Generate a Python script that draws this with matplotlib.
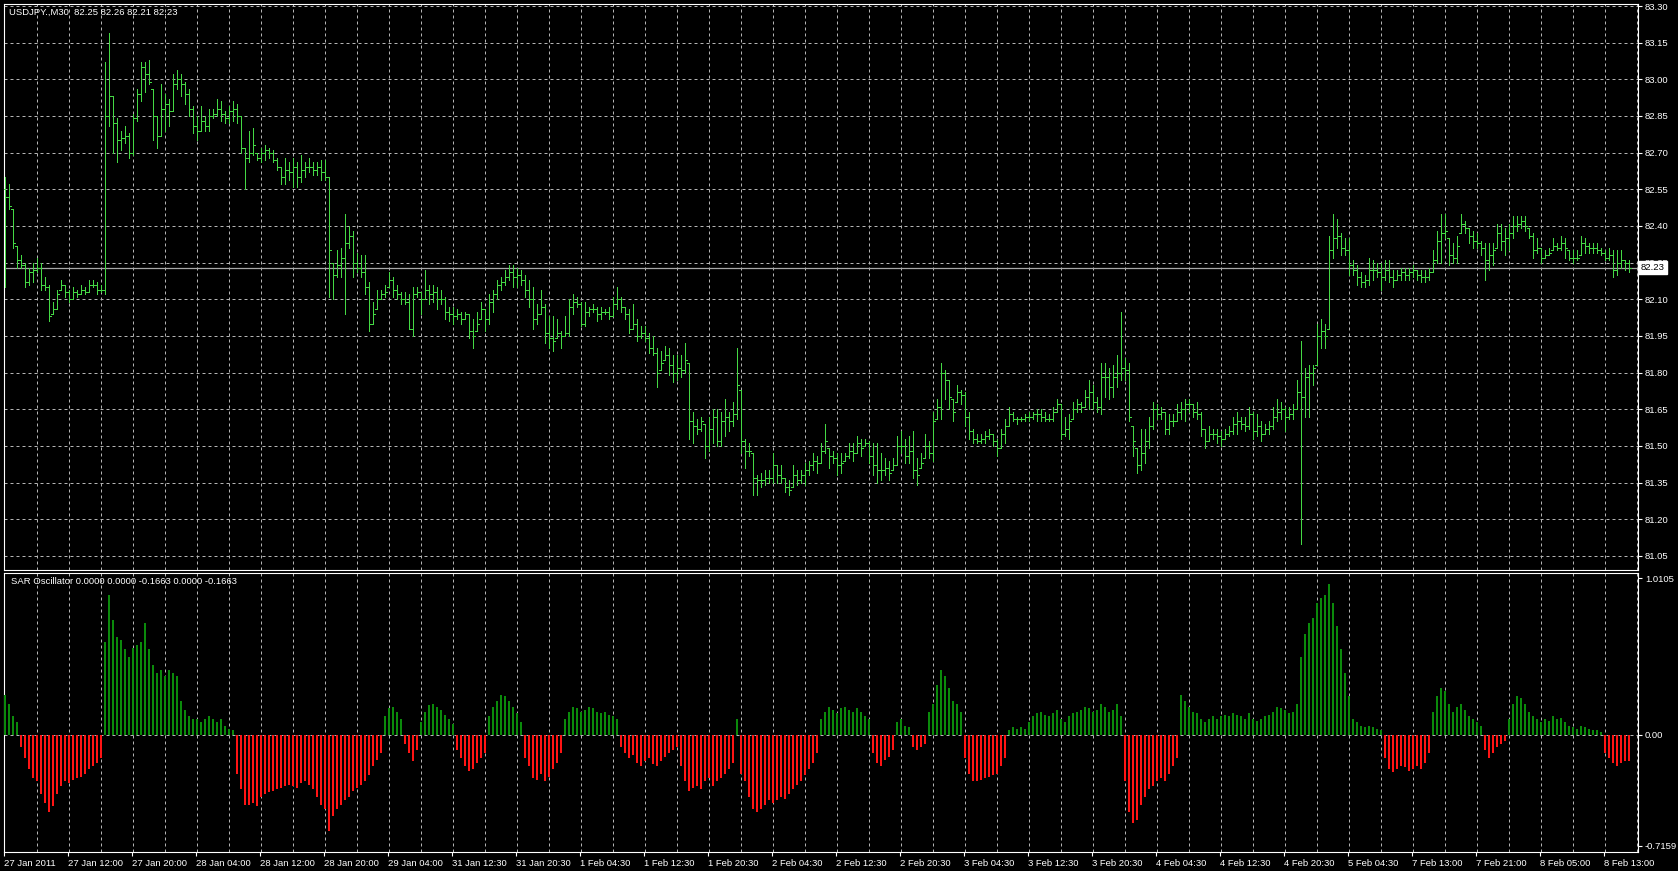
import matplotlib
matplotlib.use("Agg")
import matplotlib.pyplot as plt
import matplotlib.transforms as mtransforms
import numpy as np

# ---- data: USDJPY M30 bars (high / low / close) ----
high = [
    82.60, 82.57, 82.47, 82.32, 82.28, 82.25, 82.23, 82.25, 82.27, 82.25,
    82.19, 82.16, 82.09, 82.14, 82.18, 82.16, 82.14, 82.15, 82.14, 82.16,
    82.15, 82.18, 82.18, 82.17, 82.16, 83.07, 83.19, 82.93, 82.84, 82.79,
    82.81, 82.78, 82.86, 82.96, 83.07, 83.07, 83.08, 82.96, 82.85, 82.98,
    82.94, 82.92, 83.02, 83.04, 83.02, 82.99, 82.96, 82.89, 82.85, 82.89,
    82.85, 82.88, 82.88, 82.92, 82.91, 82.87, 82.89, 82.91, 82.90, 82.85,
    82.72, 82.79, 82.80, 82.70, 82.72, 82.73, 82.72, 82.71, 82.68, 82.64,
    82.68, 82.66, 82.68, 82.66, 82.69, 82.66, 82.68, 82.66, 82.66, 82.67,
    82.67, 82.60, 82.25, 82.30, 82.31, 82.45, 82.40, 82.38, 82.29, 82.28,
    82.28, 82.17, 82.09, 82.14, 82.14, 82.16, 82.21, 82.19, 82.16, 82.13,
    82.13, 82.12, 82.15, 82.15, 82.13, 82.22, 82.16, 82.16, 82.15, 82.14,
    82.11, 82.07, 82.07, 82.06, 82.05, 82.05, 82.04, 82.02, 82.05, 82.09,
    82.06, 82.12, 82.14, 82.18, 82.19, 82.22, 82.24, 82.24, 82.23, 82.22,
    82.20, 82.18, 82.15, 82.08, 82.14, 82.08, 82.03, 82.03, 82.02, 81.97,
    82.03, 82.10, 82.12, 82.11, 82.09, 82.09, 82.07, 82.08, 82.07, 82.07,
    82.06, 82.07, 82.11, 82.15, 82.11, 82.07, 82.06, 82.08, 82.02, 81.99,
    81.99, 81.96, 81.95, 81.90, 81.89, 81.91, 81.90, 81.87, 81.87, 81.87,
    81.92, 81.84, 81.64, 81.61, 81.62, 81.59, 81.62, 81.65, 81.65, 81.64,
    81.69, 81.64, 81.68, 81.90, 81.73, 81.53, 81.51, 81.47, 81.38, 81.39,
    81.40, 81.40, 81.47, 81.42, 81.42, 81.37, 81.36, 81.42, 81.40, 81.40,
    81.43, 81.44, 81.47, 81.46, 81.51, 81.59, 81.49, 81.48, 81.47, 81.47,
    81.47, 81.51, 81.51, 81.54, 81.53, 81.53, 81.52, 81.51, 81.51, 81.47,
    81.45, 81.44, 81.45, 81.54, 81.56, 81.53, 81.54, 81.56, 81.45, 81.47,
    81.55, 81.52, 81.64, 81.69, 81.84, 81.81, 81.77, 81.69, 81.75, 81.73,
    81.72, 81.64, 81.57, 81.55, 81.55, 81.56, 81.57, 81.55, 81.53, 81.57,
    81.61, 81.66, 81.64, 81.62, 81.62, 81.63, 81.64, 81.64, 81.65, 81.65,
    81.64, 81.63, 81.66, 81.69, 81.67, 81.62, 81.63, 81.68, 81.69, 81.68,
    81.73, 81.77, 81.75, 81.70, 81.84, 81.84, 81.82, 81.83, 81.87, 82.05,
    81.86, 81.84, 81.58, 81.49, 81.57, 81.57, 81.62, 81.68, 81.67, 81.66,
    81.64, 81.63, 81.63, 81.67, 81.68, 81.69, 81.69, 81.67, 81.68, 81.64,
    81.57, 81.58, 81.57, 81.57, 81.56, 81.57, 81.58, 81.62, 81.64, 81.62,
    81.62, 81.66, 81.64, 81.63, 81.60, 81.59, 81.60, 81.66, 81.69, 81.68,
    81.66, 81.66, 81.67, 81.77, 81.93, 81.82, 81.83, 81.83, 82.00, 82.02,
    82.00, 82.36, 82.45, 82.43, 82.37, 82.35, 82.35, 82.26, 82.24, 82.21,
    82.20, 82.27, 82.26, 82.25, 82.25, 82.26, 82.26, 82.22, 82.22, 82.23,
    82.23, 82.23, 82.24, 82.22, 82.22, 82.22, 82.23, 82.30, 82.38, 82.45,
    82.45, 82.35, 82.33, 82.36, 82.45, 82.42, 82.39, 82.38, 82.37, 82.34,
    82.33, 82.33, 82.33, 82.41, 82.41, 82.39, 82.41, 82.44, 82.44, 82.44,
    82.44, 82.39, 82.37, 82.35, 82.31, 82.30, 82.31, 82.35, 82.33, 82.36,
    82.35, 82.30, 82.30, 82.30, 82.36, 82.35, 82.33, 82.33, 82.33, 82.31,
    82.30, 82.31, 82.30, 82.30, 82.30, 82.26, 82.26,
]
low = [
    82.15, 82.47, 82.31, 82.23, 82.23, 82.15, 82.16, 82.17, 82.21, 82.14,
    82.14, 82.01, 82.04, 82.06, 82.14, 82.11, 82.09, 82.10, 82.11, 82.12,
    82.12, 82.13, 82.15, 82.12, 82.13, 82.12, 82.81, 82.70, 82.66, 82.71,
    82.74, 82.68, 82.69, 82.83, 82.91, 82.95, 82.98, 82.75, 82.72, 82.77,
    82.79, 82.81, 82.87, 82.96, 82.93, 82.90, 82.85, 82.78, 82.75, 82.79,
    82.79, 82.79, 82.84, 82.85, 82.83, 82.82, 82.82, 82.83, 82.82, 82.70,
    82.55, 82.66, 82.69, 82.67, 82.66, 82.67, 82.68, 82.66, 82.63, 82.57,
    82.57, 82.59, 82.56, 82.56, 82.58, 82.60, 82.62, 82.61, 82.61, 82.59,
    82.59, 82.11, 82.10, 82.19, 82.19, 82.04, 82.31, 82.19, 82.21, 82.19,
    82.12, 81.97, 82.00, 82.06, 82.10, 82.11, 82.15, 82.11, 82.10, 82.08,
    82.08, 81.98, 81.95, 82.11, 82.04, 82.10, 82.08, 82.09, 82.06, 82.08,
    82.02, 82.01, 82.00, 82.02, 82.00, 82.02, 81.94, 81.90, 81.97, 82.02,
    81.97, 82.00, 82.05, 82.10, 82.14, 82.16, 82.18, 82.15, 82.15, 82.16,
    82.11, 82.07, 81.98, 82.00, 82.04, 81.92, 81.90, 81.89, 81.94, 81.90,
    81.95, 81.95, 82.04, 82.07, 81.99, 81.99, 82.03, 82.05, 82.01, 82.02,
    82.04, 82.02, 82.03, 82.06, 82.05, 82.02, 81.96, 81.98, 81.93, 81.94,
    81.93, 81.88, 81.87, 81.74, 81.81, 81.85, 81.79, 81.76, 81.77, 81.78,
    81.80, 81.53, 81.51, 81.55, 81.56, 81.45, 81.48, 81.51, 81.50, 81.50,
    81.54, 81.56, 81.58, 81.61, 81.47, 81.41, 81.46, 81.30, 81.30, 81.33,
    81.34, 81.35, 81.35, 81.35, 81.35, 81.31, 81.30, 81.33, 81.34, 81.35,
    81.34, 81.38, 81.40, 81.39, 81.43, 81.47, 81.41, 81.43, 81.38, 81.39,
    81.44, 81.45, 81.44, 81.47, 81.46, 81.50, 81.43, 81.38, 81.35, 81.36,
    81.38, 81.36, 81.40, 81.42, 81.47, 81.43, 81.43, 81.37, 81.34, 81.41,
    81.45, 81.45, 81.44, 81.61, 81.61, 81.69, 81.65, 81.60, 81.68, 81.67,
    81.58, 81.53, 81.51, 81.51, 81.51, 81.51, 81.53, 81.50, 81.46, 81.49,
    81.51, 81.58, 81.60, 81.59, 81.60, 81.60, 81.60, 81.61, 81.60, 81.60,
    81.60, 81.60, 81.60, 81.64, 81.53, 81.54, 81.53, 81.61, 81.64, 81.64,
    81.66, 81.65, 81.65, 81.64, 81.63, 81.70, 81.69, 81.70, 81.74, 81.77,
    81.77, 81.60, 81.46, 81.39, 81.40, 81.43, 81.49, 81.57, 81.61, 81.61,
    81.55, 81.55, 81.58, 81.60, 81.61, 81.60, 81.64, 81.62, 81.61, 81.54,
    81.49, 81.52, 81.53, 81.51, 81.50, 81.53, 81.54, 81.55, 81.55, 81.57,
    81.56, 81.57, 81.53, 81.54, 81.52, 81.55, 81.55, 81.57, 81.60, 81.61,
    81.56, 81.61, 81.61, 81.65, 81.10, 81.62, 81.62, 81.75, 81.83, 81.90,
    81.90, 81.98, 82.27, 82.31, 82.28, 82.28, 82.20, 82.20, 82.16, 82.15,
    82.15, 82.16, 82.18, 82.19, 82.14, 82.18, 82.17, 82.15, 82.18, 82.18,
    82.18, 82.18, 82.19, 82.18, 82.17, 82.17, 82.18, 82.21, 82.25, 82.25,
    82.35, 82.24, 82.25, 82.25, 82.37, 82.37, 82.33, 82.31, 82.31, 82.28,
    82.18, 82.22, 82.24, 82.31, 82.30, 82.28, 82.30, 82.35, 82.38, 82.39,
    82.38, 82.35, 82.27, 82.29, 82.25, 82.27, 82.28, 82.30, 82.30, 82.30,
    82.27, 82.26, 82.25, 82.26, 82.28, 82.29, 82.29, 82.29, 82.29, 82.28,
    82.26, 82.26, 82.19, 82.20, 82.23, 82.22, 82.21,
]
close = [
    82.52, 82.48, 82.33, 82.26, 82.24, 82.17, 82.21, 82.22, 82.23, 82.16,
    82.15, 82.03, 82.06, 82.12, 82.16, 82.13, 82.10, 82.13, 82.12, 82.14,
    82.13, 82.16, 82.16, 82.14, 82.14, 82.85, 82.93, 82.82, 82.75, 82.76,
    82.77, 82.70, 82.84, 82.94, 83.05, 83.02, 82.99, 82.85, 82.77, 82.88,
    82.90, 82.87, 82.98, 83.00, 82.98, 82.94, 82.88, 82.81, 82.79, 82.83,
    82.81, 82.85, 82.86, 82.88, 82.86, 82.84, 82.87, 82.88, 82.85, 82.72,
    82.68, 82.70, 82.73, 82.68, 82.70, 82.71, 82.70, 82.67, 82.64, 82.60,
    82.63, 82.62, 82.64, 82.60, 82.63, 82.64, 82.64, 82.63, 82.64, 82.62,
    82.60, 82.30, 82.20, 82.24, 82.27, 82.33, 82.36, 82.25, 82.23, 82.21,
    82.15, 82.00, 82.04, 82.10, 82.12, 82.13, 82.18, 82.14, 82.12, 82.10,
    82.09, 81.98, 82.12, 82.13, 82.10, 82.14, 82.12, 82.13, 82.10, 82.10,
    82.05, 82.04, 82.03, 82.04, 82.02, 82.04, 81.97, 81.95, 82.00, 82.06,
    82.02, 82.09, 82.12, 82.16, 82.17, 82.19, 82.21, 82.19, 82.20, 82.18,
    82.14, 82.10, 82.02, 82.04, 82.07, 81.96, 81.94, 81.93, 81.96, 81.95,
    81.96, 82.07, 82.09, 82.08, 82.00, 82.05, 82.06, 82.06, 82.04, 82.05,
    82.05, 82.03, 82.08, 82.10, 82.07, 82.04, 81.98, 82.00, 81.95, 81.96,
    81.94, 81.90, 81.88, 81.80, 81.84, 81.87, 81.83, 81.80, 81.82, 81.81,
    81.85, 81.60, 81.58, 81.57, 81.60, 81.50, 81.57, 81.62, 81.52, 81.60,
    81.62, 81.60, 81.63, 81.75, 81.52, 81.48, 81.48, 81.37, 81.36, 81.36,
    81.37, 81.37, 81.42, 81.38, 81.37, 81.33, 81.32, 81.38, 81.36, 81.38,
    81.40, 81.42, 81.44, 81.43, 81.48, 81.52, 81.46, 81.45, 81.42, 81.43,
    81.46, 81.48, 81.47, 81.51, 81.49, 81.51, 81.46, 81.42, 81.40, 81.40,
    81.41, 81.39, 81.42, 81.50, 81.50, 81.46, 81.48, 81.40, 81.38, 81.43,
    81.50, 81.47, 81.60, 81.66, 81.80, 81.77, 81.70, 81.64, 81.72, 81.71,
    81.62, 81.56, 81.53, 81.52, 81.53, 81.54, 81.55, 81.52, 81.49, 81.55,
    81.58, 81.63, 81.61, 81.61, 81.61, 81.62, 81.62, 81.63, 81.63, 81.62,
    81.61, 81.61, 81.64, 81.67, 81.55, 81.57, 81.60, 81.65, 81.67, 81.66,
    81.70, 81.72, 81.68, 81.66, 81.78, 81.78, 81.74, 81.78, 81.80, 81.82,
    81.81, 81.62, 81.52, 81.42, 81.47, 81.52, 81.58, 81.65, 81.63, 81.64,
    81.57, 81.60, 81.60, 81.64, 81.65, 81.67, 81.67, 81.64, 81.63, 81.57,
    81.52, 81.55, 81.55, 81.54, 81.53, 81.55, 81.56, 81.59, 81.60, 81.59,
    81.58, 81.63, 81.56, 81.58, 81.55, 81.57, 81.58, 81.62, 81.64, 81.65,
    81.62, 81.63, 81.65, 81.72, 81.70, 81.78, 81.80, 81.82, 81.95, 81.97,
    81.95, 82.30, 82.35, 82.36, 82.31, 82.30, 82.24, 82.22, 82.19, 82.17,
    82.18, 82.22, 82.22, 82.21, 82.19, 82.22, 82.19, 82.18, 82.20, 82.21,
    82.20, 82.21, 82.22, 82.20, 82.19, 82.19, 82.21, 82.26, 82.34, 82.37,
    82.38, 82.28, 82.27, 82.32, 82.41, 82.39, 82.36, 82.34, 82.33, 82.31,
    82.26, 82.28, 82.30, 82.37, 82.34, 82.35, 82.37, 82.40, 82.41, 82.42,
    82.40, 82.36, 82.30, 82.31, 82.27, 82.28, 82.29, 82.32, 82.31, 82.33,
    82.31, 82.27, 82.27, 82.27, 82.33, 82.32, 82.31, 82.31, 82.30, 82.29,
    82.27, 82.28, 82.22, 82.25, 82.26, 82.25, 82.23,
]
first_open = 82.55

# SAR oscillator histogram, one value per bar
sar_osc = [
    0.26, 0.20, 0.12, 0.08,
    -0.08, -0.15, -0.22, -0.28, -0.30, -0.38, -0.44, -0.50, -0.46, -0.38,
    -0.33, -0.30, -0.31, -0.29, -0.28, -0.27, -0.25, -0.22, -0.20, -0.18,
    -0.15,
    0.60, 0.90, 0.74, 0.63, 0.61, 0.55, 0.50, 0.56, 0.58, 0.60,
    0.72, 0.55, 0.45, 0.40, 0.42, 0.38, 0.42, 0.40, 0.38, 0.22,
    0.16, 0.12, 0.10, 0.10, 0.08, 0.10, 0.12, 0.10, 0.08, 0.10,
    0.06, 0.04, 0.03,
    -0.25, -0.35, -0.45, -0.45, -0.44, -0.46, -0.40, -0.38, -0.37, -0.36,
    -0.35, -0.34, -0.33, -0.32, -0.33, -0.34, -0.31, -0.30, -0.32, -0.35,
    -0.40, -0.45, -0.48, -0.62, -0.52, -0.48, -0.45, -0.42, -0.40, -0.36,
    -0.34, -0.32, -0.30, -0.26, -0.20, -0.16, -0.12,
    0.12, 0.17, 0.18, 0.15, 0.10,
    -0.06, -0.12, -0.17, -0.10,
    0.08, 0.15, 0.19, 0.20, 0.18, 0.16, 0.13, 0.10, 0.07,
    -0.10, -0.15, -0.20, -0.23, -0.22, -0.18, -0.15, -0.12,
    0.12, 0.18, 0.22, 0.26, 0.25, 0.22, 0.18, 0.14, 0.08,
    -0.15, -0.20, -0.28, -0.29, -0.25, -0.30, -0.27, -0.22, -0.18, -0.12,
    0.10, 0.15, 0.18, 0.17, 0.15, 0.16, 0.18, 0.17, 0.15, 0.14,
    0.15, 0.13, 0.12, 0.10,
    -0.08, -0.12, -0.15, -0.13, -0.18, -0.20, -0.17, -0.15, -0.19, -0.20,
    -0.17, -0.14, -0.12, -0.10, -0.08,
    -0.20, -0.30, -0.36, -0.34, -0.33, -0.35, -0.30, -0.28, -0.33, -0.30,
    -0.28, -0.25, -0.22, -0.18,
    0.10,
    -0.25, -0.30, -0.40, -0.48, -0.50, -0.48, -0.45, -0.42, -0.44, -0.42,
    -0.40, -0.41, -0.38, -0.35, -0.32, -0.30, -0.26, -0.22, -0.18, -0.12,
    0.10, 0.15, 0.18, 0.16, 0.14, 0.17, 0.18, 0.16, 0.15, 0.17,
    0.15, 0.12, 0.10,
    -0.12, -0.18, -0.20, -0.16, -0.14, -0.10,
    0.08, 0.10, 0.06, 0.05,
    -0.08, -0.10, -0.08, -0.06,
    0.15, 0.20, 0.32, 0.42, 0.38, 0.30, 0.22, 0.20, 0.15,
    -0.15, -0.25, -0.30, -0.30, -0.29, -0.28, -0.27, -0.26, -0.25, -0.20,
    -0.15,
    0.03, 0.05, 0.04, 0.05, 0.04,
    0.08, 0.12, 0.14, 0.15, 0.13, 0.12, 0.14, 0.16, 0.10, 0.08,
    0.12, 0.14, 0.15, 0.16, 0.18, 0.17, 0.15, 0.16, 0.20, 0.18,
    0.15, 0.16, 0.20, 0.12,
    -0.30, -0.50, -0.57, -0.55, -0.45, -0.40, -0.35, -0.33, -0.30, -0.28,
    -0.30, -0.25, -0.20, -0.15,
    0.26, 0.22, 0.18, 0.15, 0.14, 0.10, 0.08, 0.10, 0.12, 0.10,
    0.12, 0.13, 0.12, 0.14, 0.13, 0.12, 0.10, 0.14, 0.10, 0.09,
    0.10, 0.12, 0.13, 0.15, 0.18, 0.17, 0.16, 0.14, 0.15, 0.20,
    0.50, 0.65, 0.72, 0.75, 0.85, 0.88, 0.90, 0.97, 0.85, 0.70,
    0.55, 0.40, 0.25,
    0.10, 0.08, 0.06, 0.05, 0.06, 0.05, 0.04, 0.03,
    -0.15, -0.22, -0.24, -0.22, -0.20, -0.21, -0.23, -0.22, -0.20, -0.22,
    -0.18, -0.12,
    0.15, 0.25, 0.30, 0.28, 0.20, 0.15, 0.18, 0.20, 0.16, 0.12,
    0.10, 0.08, 0.06,
    -0.10, -0.15, -0.12, -0.08, -0.06, -0.04,
    0.10, 0.20, 0.25, 0.24, 0.20, 0.15, 0.12, 0.10, 0.08, 0.10,
    0.09, 0.12, 0.10, 0.11, 0.08, 0.06, 0.05, 0.04, 0.06, 0.05,
    0.04, 0.03, 0.03, 0.02,
    -0.12, -0.15, -0.18, -0.20, -0.18, -0.17, -0.17,
]

price_levels = [83.30, 83.15, 83.00, 82.85, 82.70, 82.55, 82.40, 82.25,
                82.10, 81.95, 81.80, 81.65, 81.50, 81.35, 81.20, 81.05]
osc_levels = [1.0105, 0.0, -0.7159]
osc_level_labels = ["1.0105", "0.00", "-0.7159"]
time_labels = ["27 Jan 2011", "27 Jan 12:00", "27 Jan 20:00", "28 Jan 04:00",
               "28 Jan 12:00", "28 Jan 20:00", "29 Jan 04:00", "31 Jan 12:30",
               "31 Jan 20:30", "1 Feb 04:30", "1 Feb 12:30", "1 Feb 20:30",
               "2 Feb 04:30", "2 Feb 12:30", "2 Feb 20:30", "3 Feb 04:30",
               "3 Feb 12:30", "3 Feb 20:30", "4 Feb 04:30", "4 Feb 12:30",
               "4 Feb 20:30", "5 Feb 04:30", "7 Feb 13:00", "7 Feb 21:00",
               "8 Feb 05:00", "8 Feb 13:00"]
last_price = 82.23

# ---- look ----
BG = "black"
FG = "white"
GRID = "#b4b4b4"
BAR = "#44d844"
OSC_UP = "#0b8a0b"
OSC_DN = "#ff1414"
FS = 6.8

plt.rcParams["font.family"] = ["Liberation Sans", "DejaVu Sans"]

W, H = 1678, 871
fig = plt.figure(figsize=(W / 100, H / 100), dpi=100, facecolor=BG)


def px_axes(l, t, r, b):
    return fig.add_axes([l / W, 1 - b / H, (r - l) / W, (b - t) / H])


ax = px_axes(4, 4, 1638, 570)
axo = px_axes(4, 573, 1638, 852)

n = len(close)
x = np.arange(n)
hi = np.array(high)
lo = np.array(low)
cl = np.array(close)
op = np.clip(np.r_[first_open, cl[:-1]], lo, hi)

for a in (ax, axo):
    a.set_facecolor(BG)
    a.set_xlim(-0.25, 408.25)
    for s in a.spines.values():
        s.set_color(FG)
        s.set_linewidth(0.8)
    # dashed vertical grid every 8 bars
    for gx in range(8, 409, 8):
        a.axvline(gx, color=GRID, lw=0.72, ls=(0, (3, 3)), zorder=0)

# price panel
ax.set_ylim(83.30 - 564 / 244.4, 83.30 + 2 / 244.4)
for lv in price_levels:
    ax.axhline(lv, color=GRID, lw=0.72, ls=(0, (3, 3)), zorder=0)
ax.axhline(last_price, color="#a8a8a8", lw=0.9, zorder=1)
ax.vlines(x, lo, hi, color=BAR, lw=0.72, antialiased=False, zorder=3)
ax.hlines(op, x - 0.45, x, color=BAR, lw=0.72, antialiased=False, zorder=3)
ax.hlines(cl, x, x + 0.45, color=BAR, lw=0.72, antialiased=False, zorder=3)

ax.yaxis.tick_right()
ax.set_yticks(price_levels)
ax.set_yticklabels(["%.2f" % v for v in price_levels])
ax.tick_params(axis="y", colors=FG, labelsize=FS, length=3, width=0.8, pad=2)
ax.set_xticks([])
tr = mtransforms.blended_transform_factory(ax.transAxes, ax.transData)
ax.text(1.0015, last_price, "%.2f" % last_price, transform=tr,
        ha="left", va="center", fontsize=FS, color="black", clip_on=False,
        bbox=dict(boxstyle="square,pad=0.25", fc="white", ec="white"), zorder=10)

# oscillator panel
osc = np.array(sar_osc)
xo = np.arange(len(osc))
axo.set_ylim(-0.7159 - 6 / 155.2, 1.0105 + 5 / 155.2)
axo.axhline(0, color=GRID, lw=0.72, ls=(0, (3, 3)), zorder=0)
up = osc > 0
axo.vlines(xo[up], 0, osc[up], color=OSC_UP, lw=1.1, antialiased=False, zorder=3)
axo.vlines(xo[~up], osc[~up], 0, color=OSC_DN, lw=1.1, antialiased=False, zorder=3)

axo.yaxis.tick_right()
axo.set_yticks(osc_levels)
axo.set_yticklabels(osc_level_labels)
axo.tick_params(axis="y", colors=FG, labelsize=FS, length=3, width=0.8, pad=2)

tick_pos = [16 * k - 0.25 for k in range(len(time_labels))]
axo.set_xticks(tick_pos)
axo.set_xticklabels(time_labels)
axo.tick_params(axis="x", colors=FG, labelsize=FS, length=3, width=0.8, pad=2)
for lbl in axo.get_xticklabels():
    lbl.set_horizontalalignment("left")

# panel captions
fig.text(9 / W, 1 - 12 / H, "USDJPY.,M30  82.25 82.26 82.21 82.23",
         color=FG, fontsize=FS, ha="left", va="center")
fig.text(11 / W, 1 - 582 / H, "SAR Oscillator 0.0000 0.0000 -0.1663 0.0000 -0.1663",
         color=FG, fontsize=FS, ha="left", va="center")

fig.savefig("out.png", dpi=100, facecolor=BG)
